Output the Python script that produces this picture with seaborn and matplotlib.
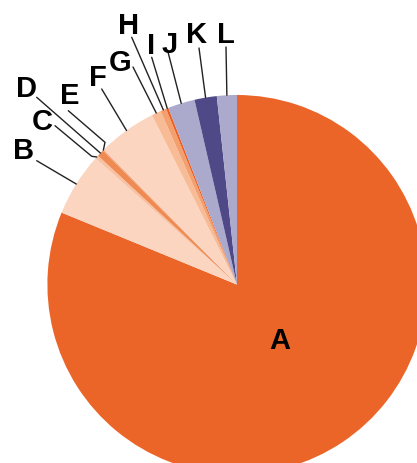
import numpy as np
import matplotlib
matplotlib.use("Agg")
import matplotlib.pyplot as plt
import seaborn as sns

# ----------------------------
# DATA
# ----------------------------
labels = ["A", "B", "C", "D", "E", "F", "G", "H", "I", "J", "K", "L"]
shares = [81.2, 5.4, 0.3, 0.6, 0.1, 5.0, 0.8, 0.5, 0.2, 2.3, 1.9, 1.7]
colors = ["#EB6428", "#FBD5C0", "#F8C2A2", "#EF8A52", "#F4A57A", "#FBD5C0",
          "#F7BB96", "#F39F6E", "#EA5E24", "#ABA9CC", "#4F4A87", "#ABA9CC"]

# ----------------------------
# LAYOUT (pixel coords on the 417x464 canvas)
# ----------------------------
W, H = 417, 464
CX, CY, R = 237, 285.6, 189.6

label_pos = {
    "A": (280, 341), "B": (24, 151), "C": (42, 122), "D": (26, 89),
    "E": (70, 96), "F": (98, 78), "G": (120, 63), "H": (129, 26),
    "I": (151, 46), "J": (170, 45), "K": (197, 35), "L": (226, 35),
}
# leader path start (+ optional elbow) before reaching the wedge edge
leader = {
    "B": [(36.7, 161.7)],
    "C": [(55, 126.7), (91.7, 157.3)],
    "D": [(36.7, 98.3)],
    "E": [(68.3, 111.7), (105, 143.3)],
    "F": [(101.7, 90)],
    "G": [(133, 68)],
    "H": [(131.7, 38.3)],
    "I": [(151.7, 58.3)],
    "J": [(168, 53)],
    "K": [(199, 49)],
    "L": [(226, 48)],
}


def to_data(p):
    return ((p[0] - CX) / R, (CY - p[1]) / R)


sns.set_theme(style="white")
plt.rcParams["font.family"] = ["Liberation Sans", "DejaVu Sans"]

fig = plt.figure(figsize=(W / 100, H / 100), dpi=100)
ax = fig.add_axes([0, 0, 1, 1])

ax.pie(shares, colors=colors, startangle=90, counterclock=False,
       radius=1, center=(0, 0), wedgeprops=dict(linewidth=0))

ax.set_xlim(-CX / R, (W - CX) / R)
ax.set_ylim((CY - H) / R, CY / R)
ax.axis("off")

# leader lines + labels
total = float(sum(shares))
cum = 0.0
for lab, v in zip(labels, shares):
    mid = np.deg2rad(90 - (cum + v / 2) / total * 360)
    cum += v
    tx, ty = to_data(label_pos[lab])
    ax.text(tx, ty, lab, ha="center", va="center", fontsize=21,
            fontweight="bold", color="black")
    if lab in leader:
        pts = [to_data(p) for p in leader[lab]] + [(np.cos(mid), np.sin(mid))]
        xs, ys = zip(*pts)
        ax.plot(xs, ys, color="#222222", lw=1.0)

fig.savefig("out.png", dpi=100)
